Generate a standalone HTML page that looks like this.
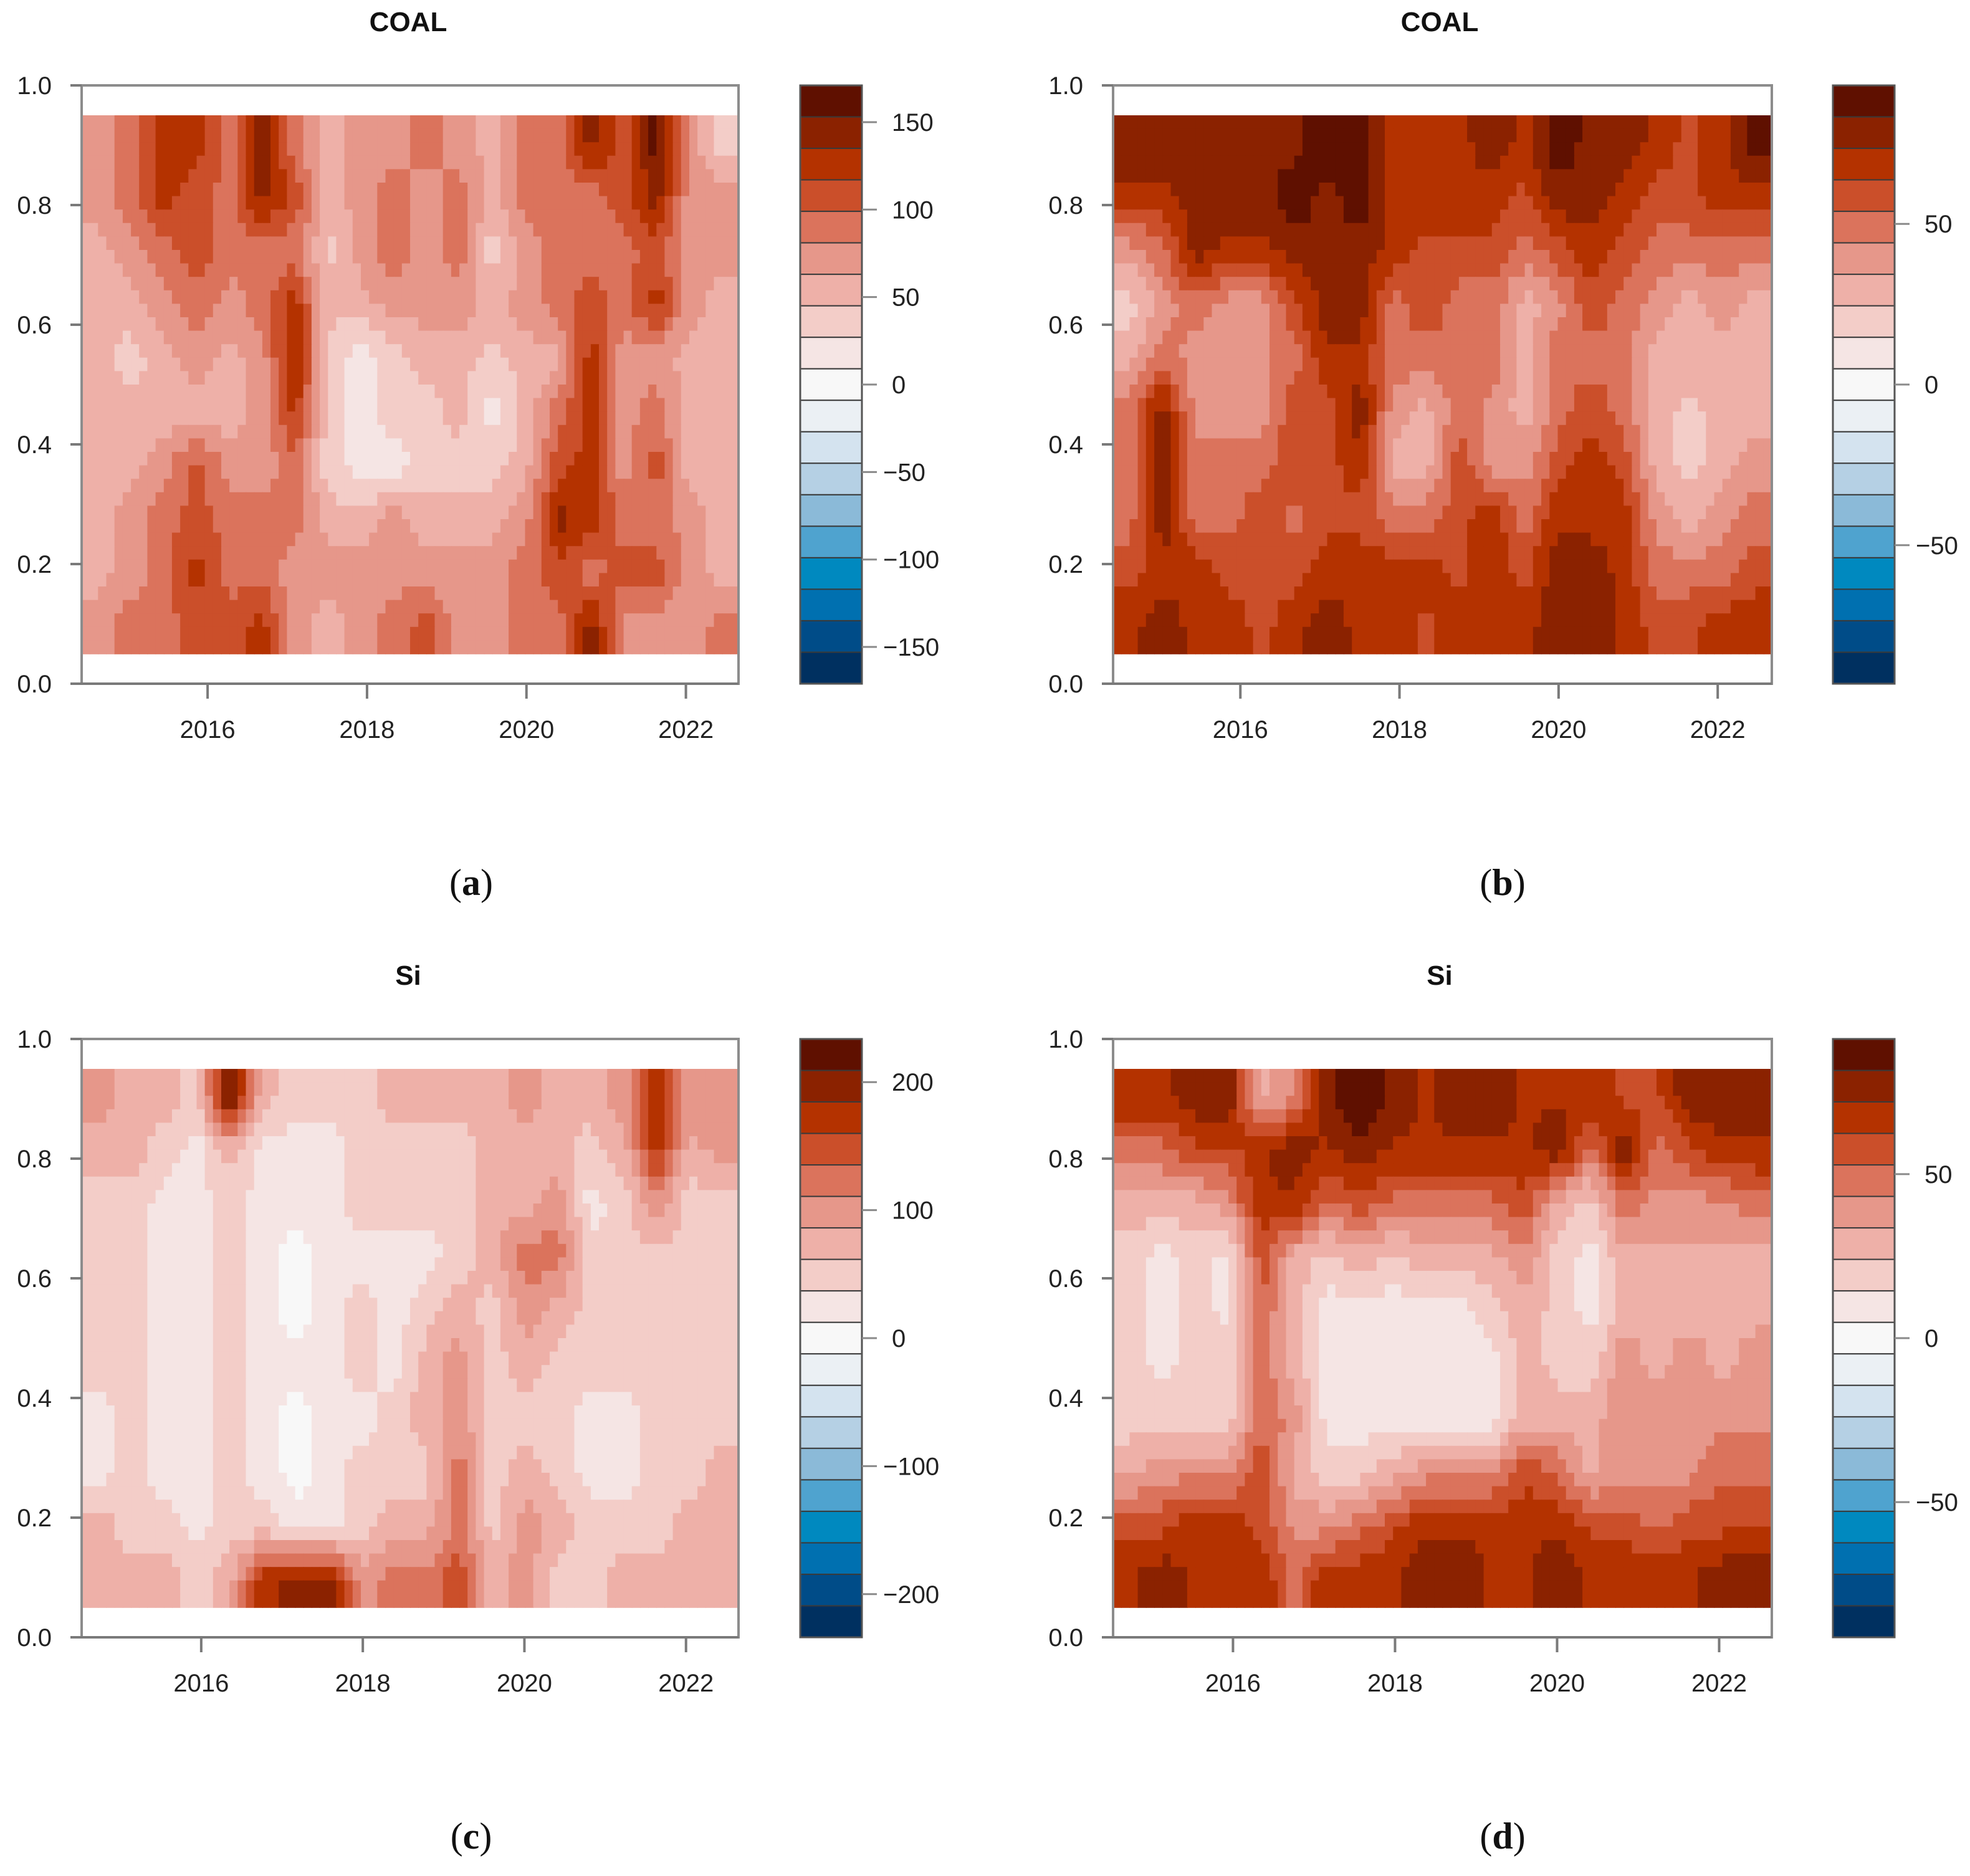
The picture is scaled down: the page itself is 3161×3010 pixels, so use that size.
<!DOCTYPE html>
<html><head><meta charset="utf-8"><style>
html,body{margin:0;padding:0;background:#fff;}
svg{display:block;font-family:"Liberation Sans",Arial,sans-serif;}
</style></head><body>
<svg id="fig" width="3161" height="3010" viewBox="0 0 3161 3010" xmlns="http://www.w3.org/2000/svg"></svg>
<script>
// ---- Data (rows top 0.95 -> bottom 0.05) ----
const yearTicks = [2016, 2018, 2020, 2022];
const yTicks = [0, 0.2, 0.4, 0.6, 0.8, 1.0];
const paletteColors = ['#5f1000','#8b2200','#b43200','#cb4f2a','#db735c','#e6978a','#eeb0a8','#f3cdc8','#f5e5e4','#f8f8f8','#ebf0f4','#d4e3ef','#b5d0e4','#8bbad8','#4fa3cf','#0089bf','#0070b0','#004c88','#003060'];
const titles = ['COAL','COAL','Si','Si'];
const panelLabels = ['(a)','(b)','(c)','(d)'];
const levelSteps = [18, 9.8, 24.6, 9.6];
const cbarTicksA = [150,100,50,0,-50,-100,-150];
const cbarTicksB = [50,0,-50];
const cbarTicksC = [200,100,0,-100,-200];
const cbarTicksD = [50,0,-50];
const gridA = [
[72,90,126,126,90,144,90,54,72,72,90,72,54,90,90,144,108,162,72,36],
[72,90,126,108,90,144,108,54,72,90,72,90,54,90,90,90,108,144,72,72],
[54,72,90,108,90,90,90,36,72,90,72,90,36,72,90,90,90,108,72,72],
[54,54,72,90,72,90,126,54,54,72,72,72,54,72,90,108,90,126,72,54],
[54,36,54,72,54,72,144,36,18,36,54,54,36,54,54,126,72,72,54,54],
[54,54,54,54,54,72,126,36,18,36,36,54,18,54,90,126,72,90,54,54],
[54,54,72,108,72,72,90,36,18,18,36,36,36,54,108,126,72,108,54,54],
[54,72,90,108,90,90,90,54,54,72,54,54,54,72,144,126,90,90,72,54],
[54,72,90,126,90,90,72,72,72,72,72,72,72,90,108,90,108,108,72,54],
[72,90,90,108,108,126,72,54,72,90,108,72,72,90,90,144,72,72,72,90]];
const gridB = [
[80,80,80,80,80,80,90,90,70,70,70,80,70,90,80,80,70,60,70,90],
[70,70,80,80,80,90,80,90,70,70,70,70,60,80,80,70,60,60,70,70],
[40,50,80,70,70,80,80,80,70,60,60,60,50,60,70,60,50,50,50,50],
[20,40,50,40,40,60,80,80,50,60,50,50,30,40,60,50,40,30,40,30],
[30,50,40,40,40,50,70,70,50,50,50,50,30,50,50,50,30,30,30,30],
[50,80,40,40,40,60,60,80,40,30,50,40,30,50,60,50,30,20,30,30],
[50,80,50,50,50,60,60,70,30,30,60,40,40,60,70,60,30,20,30,40],
[50,80,50,50,60,50,60,60,50,50,60,70,50,70,70,70,40,30,40,50],
[60,70,70,60,60,60,70,70,70,70,60,70,60,80,80,70,50,50,50,60],
[70,80,70,70,60,70,80,70,70,60,70,70,70,80,80,70,60,60,70,70]];
const gridC = [
[100,75,75,50,225,75,50,50,50,75,75,75,75,100,75,75,100,175,100,100],
[75,75,50,25,75,25,25,25,50,50,50,50,75,75,75,50,75,175,75,100],
[50,50,25,25,50,25,25,25,50,50,50,50,75,75,100,25,50,100,50,50],
[50,50,25,25,50,25,0,25,25,25,25,50,75,125,125,50,50,50,50,50],
[50,50,25,25,50,25,0,25,50,25,50,75,50,100,75,50,50,50,50,50],
[50,50,25,25,50,25,25,25,50,25,75,100,50,75,50,50,50,50,50,50],
[25,50,25,25,50,25,0,25,25,50,75,100,50,50,50,25,25,50,50,50],
[25,50,25,25,50,25,0,25,50,50,50,125,50,75,50,25,25,50,50,75],
[75,50,50,25,50,50,25,25,50,75,75,125,50,100,75,50,50,50,75,75],
[75,75,75,50,75,175,200,200,100,125,125,150,75,100,50,50,75,75,75,75]];
const gridD = [
[70,70,80,80,30,40,80,90,80,70,80,80,70,70,70,60,60,80,80,80],
[50,50,60,60,70,80,70,80,70,70,70,70,70,80,50,80,50,60,70,70],
[30,30,30,40,70,70,50,60,50,50,50,50,60,30,20,50,40,40,40,50],
[20,10,20,10,60,30,20,30,20,30,30,30,40,20,10,30,30,30,30,30],
[20,10,20,10,50,30,10,10,10,10,10,20,30,20,10,30,30,30,30,30],
[20,10,20,20,50,30,10,10,10,10,10,10,30,20,20,40,30,40,30,40],
[20,20,20,20,50,40,10,10,10,10,10,10,30,30,30,40,40,40,40,40],
[30,40,40,40,60,30,20,20,30,40,40,40,60,50,30,40,40,40,50,50],
[60,60,70,70,60,40,40,50,60,70,70,70,70,70,60,60,50,60,60,60],
[70,80,70,70,70,50,70,70,70,80,80,70,70,80,70,70,70,70,80,80]];

const grids = [gridA, gridB, gridC, gridD];
const cbarTicks = [cbarTicksA, cbarTicksB, cbarTicksC, cbarTicksD];

// ---- Layout ----
const panels = [
 {px0:131, px1:1185, py0:137, py1:1097, cx:1284, t0:2014.42, t1:2022.66, titleX:655, titleY:50, labX:756, labY:1436, key:'a'},
 {px0:1786,px1:2843, py0:137, py1:1097, cx:2941, t0:2014.40, t1:2022.68, titleX:2310, titleY:50, labX:2411, labY:1436, key:'b'},
 {px0:131, px1:1185, py0:1667,py1:2627, cx:1284, t0:2014.52, t1:2022.65, titleX:655, titleY:1580, labX:756, labY:2966, key:'c'},
 {px0:1786,px1:2843, py0:1667,py1:2627, cx:2941, t0:2014.52, t1:2022.65, titleX:2310, titleY:1580, labX:2411, labY:2966, key:'d'}
];
const NS = 'http://www.w3.org/2000/svg';
const svg = document.getElementById('fig');
function mk(tag, attrs, parent){ const e=document.createElementNS(NS,tag); for(const k in attrs) e.setAttribute(k,attrs[k]); (parent||svg).appendChild(e); return e; }
function colorFor(v, step){ let k=Math.round(v/step); if(k>9)k=9; if(k<-9)k=-9; return paletteColors[9-k]; }

panels.forEach((p, pi) => {
  const g = mk('g', {});
  
  
  const grid = grids[pi], step = levelSteps[pi];
  const nr = grid.length, nc = grid[0].length;
  const xs = t => p.px0 + (t - p.t0) / (p.t1 - p.t0) * (p.px1 - p.px0);
  const ys = v => p.py1 - v * (p.py1 - p.py0);
  const hm = mk('g', {}, g);
  
  
  const S = 4;
  const bx0 = p.px0, bx1 = p.px1, by0 = ys(0.95), by1 = ys(0.05);
  const cw = (bx1 - bx0) / (nc * S), ch = (by1 - by0) / (nr * S);
  for (let i = 0; i < nr * S; i++) {
    const fr = Math.min(Math.max((i + 0.5) / S - 0.5, 0), nr - 1);
    const r0 = Math.floor(fr), r1 = Math.min(r0 + 1, nr - 1), wr = fr - r0;
    for (let j = 0; j < nc * S; j++) {
      const fc = Math.min(Math.max((j + 0.5) / S - 0.5, 0), nc - 1);
      const c0 = Math.floor(fc), c1 = Math.min(c0 + 1, nc - 1), wc = fc - c0;
      const v = (grid[r0][c0] * (1 - wc) + grid[r0][c1] * wc) * (1 - wr) + (grid[r1][c0] * (1 - wc) + grid[r1][c1] * wc) * wr;
      const rc = mk('rect', {x: (bx0 + j * cw).toFixed(1), y: (by0 + i * ch).toFixed(1), width: (cw + 0.8).toFixed(1), height: (ch + 0.8).toFixed(1), fill: colorFor(v, step)}, hm);
      
      
    }
  }
  const fr = mk('rect', {x:p.px0, y:p.py0, width:p.px1-p.px0, height:p.py1-p.py0, fill:'none', stroke:'#8c8c8c', 'stroke-width':4}, g);
  
  
  yTicks.forEach(t => {
    const y = ys(t);
    const ln = mk('line', {x1:p.px0-18, x2:p.px0, y1:y, y2:y, stroke:'#7a7a7a', 'stroke-width':4}, g);
    
    
    const tx = mk('text', {x:p.px0-48, y:y+14, 'font-size':40, 'text-anchor':'end', fill:'#222'}, g);
    tx.textContent = t.toFixed(1);
    
    
  });
  const al = mk('line', {x1:p.px0, x2:p.px1, y1:p.py1, y2:p.py1, stroke:'#7a7a7a', 'stroke-width':4}, g);
  
  
  yearTicks.forEach(t => {
    const x = xs(t);
    const ln = mk('line', {x1:x, x2:x, y1:p.py1, y2:p.py1+24, stroke:'#7a7a7a', 'stroke-width':4}, g);
    
    
    const tx = mk('text', {x:x, y:p.py1+87, 'font-size':40, 'text-anchor':'middle', fill:'#222'}, g);
    tx.textContent = String(t);
    
    
  });
  const tt = mk('text', {x:p.titleX, y:p.titleY, 'font-size':44, 'font-weight':'bold', 'text-anchor':'middle', fill:'#111'}, g);
  tt.textContent = titles[pi];
  
  
  const cb = mk('g', {}, g);
  
  
  const H = p.py1 - p.py0, bh = H / paletteColors.length, cwid = 99;
  paletteColors.forEach((c, k) => {
    const r = mk('rect', {x:p.cx, y:p.py0 + k*bh, width:cwid, height:bh, fill:c, stroke:'#3a3a3a', 'stroke-width':2}, cb);
    
    
  });
  const cbo = mk('rect', {x:p.cx, y:p.py0, width:cwid, height:H, fill:'none', stroke:'#555', 'stroke-width':3}, cb);
  
  
  const span = paletteColors.length * step, mid = p.py0 + H/2;
  cbarTicks[pi].forEach(v => {
    const y = mid - v / span * H;
    const ln = mk('line', {x1:p.cx+cwid, x2:p.cx+cwid+24, y1:y, y2:y, stroke:'#8a8a8a', 'stroke-width':3}, cb);
    
    
    const tx = mk('text', {x:p.cx+cwid+(v<0?34:48), y:y+14, 'font-size':40, fill:'#222'}, cb);
    tx.textContent = v < 0 ? '\u2212' + Math.abs(v) : String(v);
    
    
  });
  const lb = mk('text', {x:p.labX, y:p.labY, 'font-size':60, 'text-anchor':'middle', fill:'#111', 'font-family':'"Liberation Serif", serif'}, g);
  
  
  const s1 = mk('tspan', {}, lb); s1.textContent = '(';
  const s2 = mk('tspan', {'font-weight':'bold'}, lb); s2.textContent = p.key;
  const s3 = mk('tspan', {}, lb); s3.textContent = ')';
});
</script>
</body></html>
